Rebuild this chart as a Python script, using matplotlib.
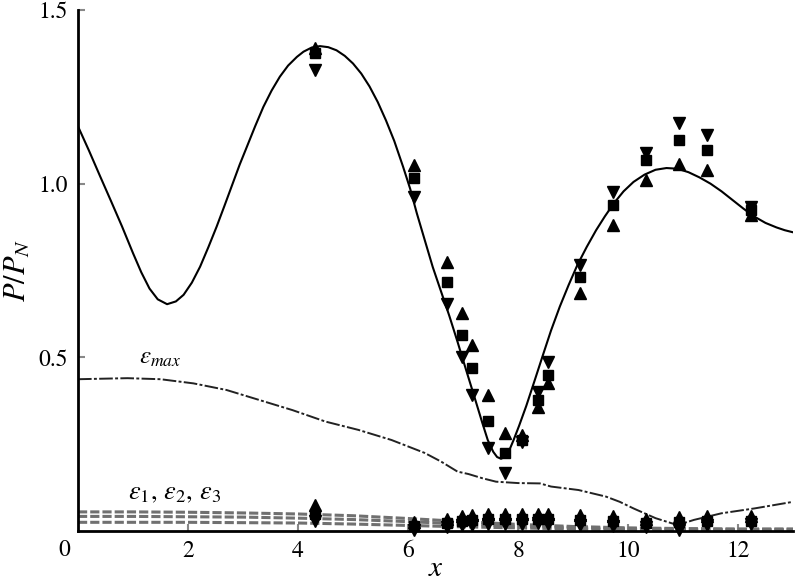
import numpy as np
import matplotlib
matplotlib.use("Agg")
import matplotlib.pyplot as plt

plt.rcParams['font.family'] = ['STIXGeneral', 'DejaVu Serif']
plt.rcParams['mathtext.fontset'] = 'stix'

# main curve P/P_N
x_curve = [0.00, 0.20, 0.40, 0.60, 0.80, 1.00, 1.15, 1.30, 1.45, 1.62, 1.78, 1.92,
           2.07, 2.22, 2.37, 2.52, 2.66, 2.80, 2.94, 3.07, 3.22, 3.37, 3.52, 3.67,
           3.82, 3.98, 4.10, 4.25, 4.40, 4.55, 4.70, 4.85, 5.00, 5.15, 5.30, 5.45,
           5.60, 5.75, 5.91, 6.04, 6.16, 6.30, 6.45, 6.60, 6.75, 6.90, 7.05, 7.20,
           7.35, 7.45, 7.55, 7.62, 7.69, 7.76, 7.83, 7.92, 8.02, 8.15, 8.30, 8.45,
           8.60, 8.76, 8.92, 9.08, 9.25, 9.42, 9.58, 9.75, 9.92, 10.10, 10.30, 10.50,
           10.70, 10.90, 11.10, 11.30, 11.50, 11.70, 11.90, 12.10, 12.30, 12.50,
           12.70, 12.85, 13.00]
p_curve = [1.165, 1.095, 1.022, 0.950, 0.877, 0.800, 0.745, 0.698, 0.667, 0.653, 0.661, 0.680,
           0.715, 0.761, 0.817, 0.876, 0.935, 0.995, 1.055, 1.106, 1.165, 1.221, 1.268, 1.308,
           1.340, 1.365, 1.380, 1.392, 1.396, 1.393, 1.384, 1.368, 1.346, 1.317, 1.280, 1.235,
           1.182, 1.123, 1.049, 0.985, 0.915, 0.840, 0.760, 0.690, 0.620, 0.545, 0.467, 0.390,
           0.312, 0.262, 0.228, 0.213, 0.208, 0.213, 0.228, 0.262, 0.303, 0.360, 0.432, 0.505,
           0.577, 0.646, 0.708, 0.766, 0.818, 0.866, 0.906, 0.945, 0.978, 1.005, 1.026, 1.040,
           1.045, 1.043, 1.033, 1.018, 1.000, 0.978, 0.953, 0.928, 0.905, 0.887,
           0.874, 0.866, 0.860]

# eps_max curve
x_emax = [0.0, 0.9, 1.5, 2.1, 2.7, 3.3, 3.9, 4.5, 5.1, 5.7, 6.3, 6.6, 6.9, 7.1, 7.35, 7.6, 8.0,
          8.4, 8.6, 9.1, 9.6, 9.85, 10.1, 10.5, 10.9, 11.2, 11.7, 12.3, 13.0]
p_emax = [0.437, 0.440, 0.437, 0.425, 0.406, 0.377, 0.348, 0.315, 0.291, 0.262, 0.225, 0.200,
          0.171, 0.164, 0.152, 0.142, 0.138, 0.137, 0.128, 0.118, 0.099, 0.084, 0.065, 0.037, 0.017,
          0.032, 0.051, 0.065, 0.084]

# eps_1, eps_2, eps_3 curves
x_eps = [0, 1, 2, 3, 4, 5, 6, 7, 8, 9, 10, 11, 12, 13]
eps1 = [0.055, 0.055, 0.054, 0.052, 0.049, 0.044, 0.036, 0.027, 0.019, 0.013, 0.009, 0.007, 0.006, 0.006]
eps2 = [0.042, 0.042, 0.041, 0.040, 0.037, 0.033, 0.027, 0.020, 0.014, 0.010, 0.007, 0.005, 0.004, 0.004]
eps3 = [0.025, 0.025, 0.025, 0.024, 0.023, 0.020, 0.016, 0.012, 0.009, 0.006, 0.004, 0.003, 0.003, 0.003]

# measured points
x_m = [4.31, 6.10, 6.70, 6.99, 7.17, 7.46, 7.76, 8.07, 8.37, 8.54, 9.13, 9.73, 10.33, 10.93, 11.43, 12.24]
p_up = [1.390, 1.053, 0.775, 0.628, 0.535, 0.391, 0.281, 0.276, 0.358, 0.425, 0.684, 0.881, 1.010, 1.058, 1.039, 0.910]
p_sq = [1.376, 1.016, 0.718, 0.564, 0.470, 0.317, 0.224, 0.262, 0.377, 0.449, 0.732, 0.938, 1.068, 1.125, 1.097, 0.924]
p_dn = [1.327, 0.962, 0.653, 0.502, 0.391, 0.238, 0.167, 0.256, 0.401, 0.487, 0.766, 0.977, 1.087, 1.174, 1.140, 0.934]

# measured errors near the bottom
e_up = [0.075, 0.025, 0.035, 0.042, 0.045, 0.048, 0.048, 0.048, 0.048, 0.048, 0.045, 0.042, 0.035, 0.040, 0.042, 0.042]
e_sq = [0.050, 0.014, 0.024, 0.030, 0.032, 0.034, 0.034, 0.034, 0.034, 0.034, 0.032, 0.030, 0.024, 0.025, 0.030, 0.030]
e_dn = [0.030, 0.004, 0.012, 0.018, 0.018, 0.020, 0.020, 0.020, 0.022, 0.020, 0.018, 0.015, 0.012, 0.004, 0.018, 0.020]

fig = plt.figure(figsize=(7.96, 5.85), dpi=100)
ax = fig.add_axes([78/796, 54/585, 715/796, 521/585])

for e in (eps1, eps2, eps3):
    ax.plot(x_eps, e, color='#707070', lw=2.2, dashes=(3, 1))
ax.plot(x_curve, p_curve, color='black', lw=1.5)
ax.plot(x_emax, p_emax, color='#222222', lw=1.4, dashes=(7, 1.2, 1.5, 1.2))

for yy in (p_up, e_up):
    ax.plot(x_m, yy, '^', color='black', ms=9, clip_on=False)
for yy in (p_sq, e_sq):
    ax.plot(x_m, yy, 's', color='black', ms=6.5, clip_on=False)
for yy in (p_dn, e_dn):
    ax.plot(x_m, yy, 'v', color='black', ms=9, clip_on=False)

ax.text(1.5, 0.50, r'$\varepsilon_{max}$', fontsize=18, ha='center', va='center')
ax.text(1.75, 0.108, r'$\varepsilon_1,\,\varepsilon_2,\,\varepsilon_3$', fontsize=19, ha='center', va='center')

ax.set_xlim(0, 13)
ax.set_ylim(0, 1.5)
ax.set_xticks([2, 4, 6, 8, 10, 12])
ax.set_yticks([0.5, 1.0, 1.5])
ax.set_yticklabels(['0.5', '1.0', '1.5'])
ax.tick_params(direction='in', length=5, width=1.5, color='#888888', labelsize=17, pad=7)
ax.text(-0.24, -0.055, '0', fontsize=17, ha='center', va='center', clip_on=False)

for s in ('top', 'right'):
    ax.spines[s].set_visible(False)
for s in ('left', 'bottom'):
    ax.spines[s].set_linewidth(2)

ax.set_xlabel(r'$x$', fontsize=21, labelpad=-4)
ax.set_ylabel(r'$P/P_N$', fontsize=22, labelpad=4)

fig.savefig("out.png", dpi=100)
